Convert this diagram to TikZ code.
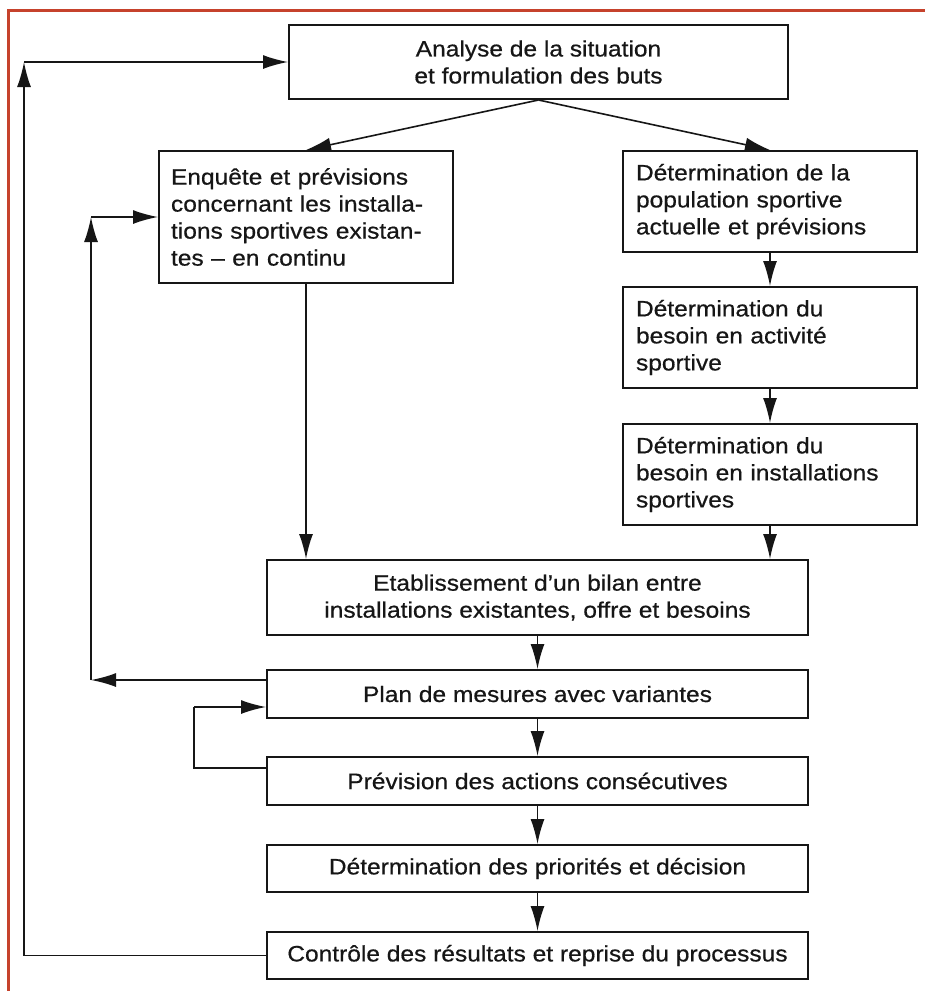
\documentclass[tikz,border=0pt]{standalone}
\usepackage{fontspec}
\setmainfont{Liberation Sans}[FakeStretch=1.1,FakeBold=0.6]
\usetikzlibrary{arrows.meta,calc}
\definecolor{framered}{RGB}{198,66,44}
\definecolor{ink}{RGB}{22,22,22}
\begin{document}
\begin{tikzpicture}[x=1pt,y=1pt,
  box/.style={draw=ink, line width=2pt, inner sep=0pt, text=ink,
    font=\fontsize{22.3}{27}\selectfont},
  cbox/.style={box, align=center},
  lbox/.style={box, align=left},
  arr/.style={draw=ink, line width=1.6pt, -{Latex[length=25pt,width=14pt]}},
  ln/.style={draw=ink, line width=1.6pt}]
\useasboundingbox (0,0) rectangle (925,-991);
\fill[white] (0,0) rectangle (925,-991);
% red frame (top and left only)
\draw[framered, line width=3pt] (8,-991) -- (8,-10) -- (925,-10);

% nodes
\node[cbox, minimum width=499pt, minimum height=74pt] (top) at (538.5,-62)
  {Analyse de la situation\\et formulation des buts};
\node[lbox, minimum width=294pt, minimum height=132pt, text width=270pt] (enq) at (306,-217)
  {Enquête et prévisions\\concernant les installa-\\tions sportives existan-\\tes – en continu};
\node[lbox, minimum width=294pt, minimum height=101pt, text width=268pt] (det1) at (770,-201.5)
  {Détermination de la\\population sportive\\actuelle et prévisions};
\node[lbox, minimum width=294pt, minimum height=101pt, text width=268pt] (det2) at (770,-337.5)
  {Détermination du\\besoin en activité\\sportive};
\node[lbox, minimum width=294pt, minimum height=101pt, text width=268pt] (det3) at (770,-474.5)
  {Détermination du\\besoin en installations\\sportives};
\node[cbox, minimum width=541pt, minimum height=75pt] (etab) at (537.5,-597.5)
  {Etablissement d’un bilan entre\\installations existantes, offre et besoins};
\node[cbox, minimum width=541pt, minimum height=48pt] (plan) at (537.5,-694)
  {Plan de mesures avec variantes};
\node[cbox, minimum width=541pt, minimum height=48pt] (prev) at (537.5,-781)
  {Prévision des actions consécutives};
\node[cbox, minimum width=541pt, minimum height=47pt] (prio) at (537.5,-868.5)
  {Détermination des priorités et décision};
\node[cbox, minimum width=541pt, minimum height=47pt] (ctrl) at (537.5,-955.5)
  {Contrôle des résultats et reprise du processus};

% helper coordinates for loops
\coordinate (c1) at (91,-680);
\coordinate (c2) at (91,-217);
\coordinate (d1) at (194,-768);
\coordinate (d2) at (194,-707);
\coordinate (e1) at (24,-955.5);
\coordinate (e2) at (24,-62);

% main flow
\draw[arr] (top.south) -- (enq.north);
\draw[arr] (top.south) -- (det1.north);
\draw[arr] (det1.south) -- (det2.north);
\draw[arr] (det2.south) -- (det3.north);
\draw[arr] (det3.south) -- (det3.south |- etab.north);
\draw[arr] (enq.south) -- (enq.south |- etab.north);
\draw[arr] (etab.south) -- (plan.north);
\draw[arr] (plan.south) -- (prev.north);
\draw[arr] (prev.south) -- (prio.north);
\draw[arr] (prio.south) -- (ctrl.north);

% inner loop: plan -> enquete
\draw[arr] (c1 -| plan.west) -- (c1);
\draw[arr] (c1) -- (c2);
\draw[arr] (c2) -- (enq.west);

% small loop: prevision -> plan
\draw[ln] (d1 -| prev.west) -- (d1) -- (d2);
\draw[arr] (d2) -- (d2 -| plan.west);

% outer loop: controle -> analyse
\draw[ln] (ctrl.west) -- (e1);
\draw[arr] (e1) -- (e2);
\draw[arr] (e2) -- (top.west);
\end{tikzpicture}
\end{document}
